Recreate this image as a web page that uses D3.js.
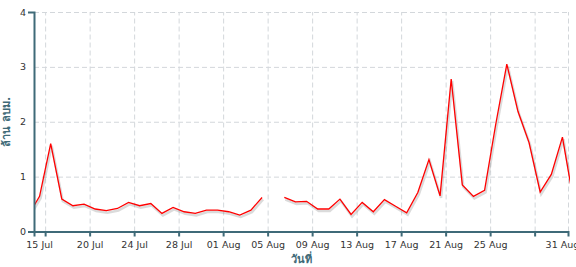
<!DOCTYPE html>
<html>
<head>
<meta charset="utf-8">
<script src="https://cdn.jsdelivr.net/npm/d3@7"></script>
<style>
  body { margin: 0; background: #fff; }
  .grid line { stroke: #d3d7db; stroke-width: 1; stroke-dasharray: 5,3; }
  .grid .domain { display: none; }
  .axis path, .axis line { stroke: #3f6a78; stroke-width: 2; }
  .axis text { fill: #333; font-family: "DejaVu Sans", Verdana, sans-serif; font-size: 9.5px; }
  .title { fill: #3f6a78; font-family: "DejaVu Sans", Tahoma, sans-serif; font-size: 11px; font-weight: bold; }
</style>
</head>
<body>
<div id="gbody"></div>
<script>
// dias (una fila por dia; null = sin dato)
var dias = ["2020-07-14","2020-07-15","2020-07-16","2020-07-17","2020-07-18","2020-07-19","2020-07-20",
    "2020-07-21","2020-07-22","2020-07-23","2020-07-24","2020-07-25","2020-07-26","2020-07-27",
    "2020-07-28","2020-07-29","2020-07-30","2020-07-31","2020-08-01","2020-08-02","2020-08-03",
    "2020-08-04","2020-08-05","2020-08-06","2020-08-07","2020-08-08","2020-08-09","2020-08-10",
    "2020-08-11","2020-08-12","2020-08-13","2020-08-14","2020-08-15","2020-08-16","2020-08-17",
    "2020-08-18","2020-08-19","2020-08-20","2020-08-21","2020-08-22","2020-08-23","2020-08-24",
    "2020-08-25","2020-08-26","2020-08-27","2020-08-28","2020-08-29","2020-08-30","2020-08-31",
    "2020-09-01"];
var volumen = [0.30,0.64,1.60,0.59,0.47,0.50,0.41,
    0.38,0.42,0.53,0.47,0.51,0.33,0.44,
    0.36,0.33,0.39,0.39,0.36,0.30,0.39,
    0.62,null,0.62,0.54,0.55,0.41,0.41,
    0.59,0.31,0.53,0.36,0.58,0.46,0.34,
    0.71,1.31,0.65,2.78,0.85,0.64,0.75,
    1.95,3.05,2.19,1.62,0.72,1.04,1.72,
    0.55];
var dominioX = ["2020-07-15","2020-09-01"];
var ticksX = ["2020-07-16","2020-07-20","2020-07-24","2020-07-28","2020-08-01","2020-08-05",
    "2020-08-09","2020-08-13","2020-08-17","2020-08-21","2020-08-25","2020-08-29"];
var etiquetasExtremos = ["2020-07-15","2020-08-31"];
var ticksY = [0,1,2,3,4];
var tituloX = "วันที่";
var tituloY = "ล้าน ลบม.";

var width = 576, height = 267;
var margin = {top: 12, right: 8, bottom: 35.5, left: 34};
var w = width - margin.left - margin.right;
var h = height - margin.top - margin.bottom;

var parse = d3.timeParse("%Y-%m-%d");
var fmt = d3.timeFormat("%d %b");

var data = dias.map(function(d, i){ return {fecha: d3.timeHour.offset(parse(d), 12), valor: volumen[i]}; });

var x = d3.scaleTime().domain(dominioX.map(parse)).range([0, w]);
var y = d3.scaleLinear().domain([0, 4]).range([h, 0]);

var svg = d3.select("#gbody").append("svg")
    .attr("width", width)
    .attr("height", height);

svg.append("defs").append("clipPath")
    .attr("id", "clip")
    .append("rect")
    .attr("x", 0).attr("y", -margin.top)
    .attr("width", w + 2).attr("height", height);

var g = svg.append("g")
    .attr("transform", "translate(" + margin.left + "," + margin.top + ")");

// grilla
var tickDates = ticksX.map(parse);
g.append("g")
    .attr("class", "grid")
    .attr("transform", "translate(0," + h + ")")
    .call(d3.axisBottom(x).tickValues(tickDates.concat([x.domain()[1]])).tickSize(-h).tickFormat(""));

g.append("g")
    .attr("class", "grid")
    .call(d3.axisLeft(y).tickValues(ticksY.slice(1)).tickSize(-w).tickFormat(""));

// linea
var line = d3.line()
    .defined(function(d){ return d.valor != null; })
    .x(function(d){ return x(d.fecha); })
    .y(function(d){ return y(d.valor); });

var lineas = g.append("g").attr("clip-path", "url(#clip)");

lineas.append("path")
    .datum(data)
    .attr("fill", "none")
    .attr("stroke", "#888")
    .attr("stroke-opacity", 0.3)
    .attr("stroke-width", 2.5)
    .attr("transform", "translate(1,2)")
    .attr("d", line);

lineas.append("path")
    .datum(data)
    .attr("fill", "none")
    .attr("stroke", "#ff0000")
    .attr("stroke-width", 1.3)
    .attr("d", line);

// ejes
var ax = g.append("g")
    .attr("class", "axis")
    .attr("transform", "translate(0," + h + ")")
    .call(d3.axisBottom(x)
        .tickValues(tickDates)
        .tickSizeInner(5).tickSizeOuter(5).tickPadding(5)
        .tickFormat(function(d, i){ return (i == 0 || i == tickDates.length - 1) ? "" : fmt(d); }));

ax.selectAll(".extremo")
    .data(etiquetasExtremos)
    .enter().append("text")
    .attr("class", "extremo")
    .attr("x", function(d){ return x(d3.timeHour.offset(parse(d), 12)); })
    .attr("y", 10)
    .attr("dy", "0.71em")
    .attr("text-anchor", "middle")
    .text(function(d){ return fmt(parse(d)); });

g.append("g")
    .attr("class", "axis")
    .call(d3.axisLeft(y)
        .tickValues(ticksY)
        .tickSizeInner(0).tickSizeOuter(6).tickPadding(8)
        .tickFormat(d3.format("d")));

// titulos
g.append("text")
    .attr("class", "title")
    .attr("x", w / 2)
    .attr("y", h + 31)
    .attr("text-anchor", "middle")
    .text(tituloX);

g.append("text")
    .attr("class", "title")
    .attr("transform", "translate(-24," + (h / 2) + ") rotate(-90)")
    .attr("text-anchor", "middle")
    .text(tituloY);
</script>
</body>
</html>
